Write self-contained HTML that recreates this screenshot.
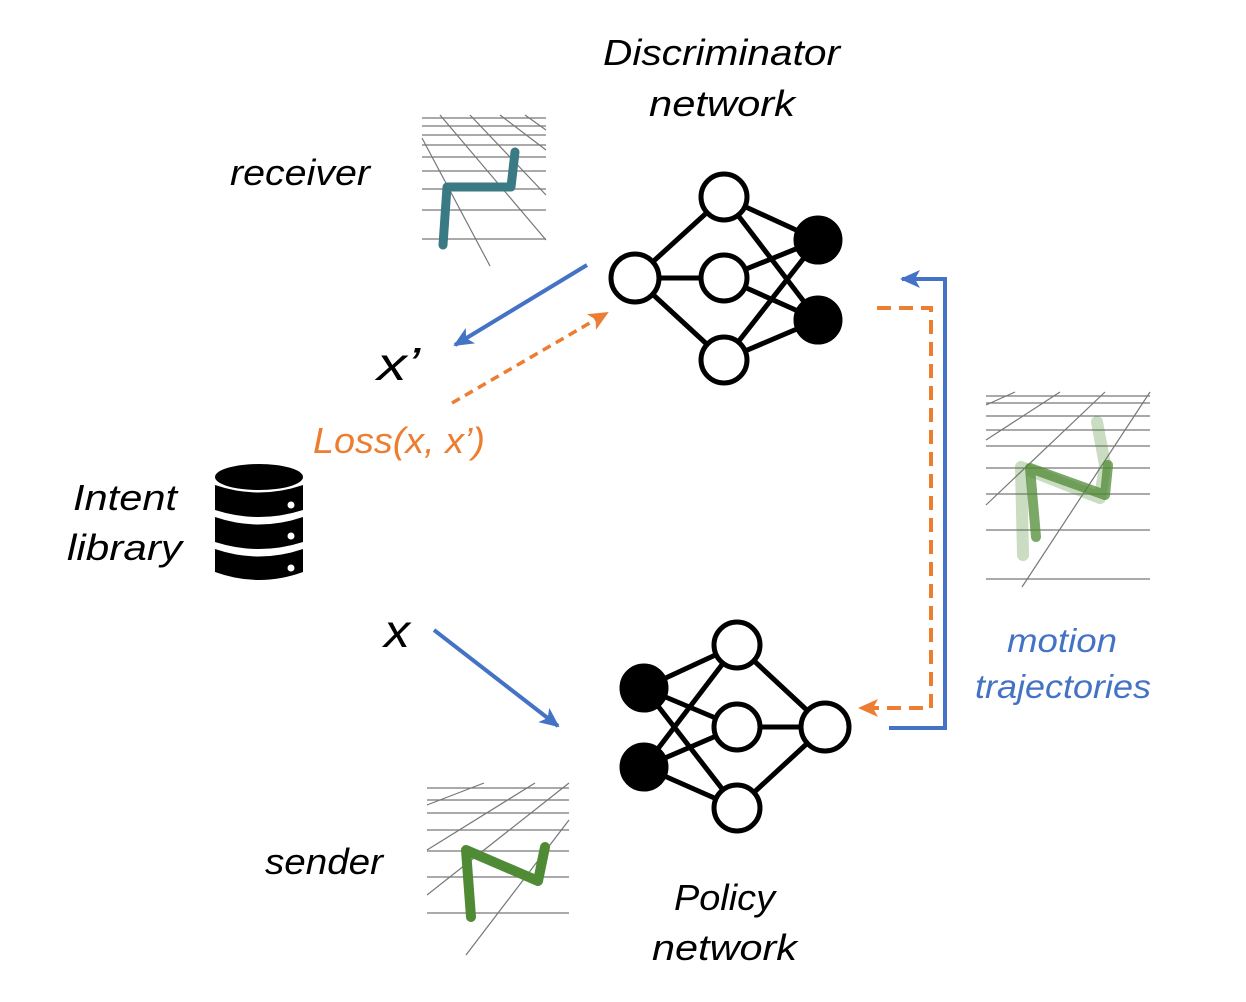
<!DOCTYPE html>
<html><head><meta charset="utf-8"><style>html,body{margin:0;padding:0;background:#fff}svg{display:block}</style></head>
<body>
<svg width="1246" height="1002" viewBox="0 0 1246 1002" xmlns="http://www.w3.org/2000/svg" font-family="Liberation Sans, sans-serif" font-style="italic">
<defs>
<marker id="ab2" markerWidth="22" markerHeight="22" refX="18" refY="11" orient="auto" markerUnits="userSpaceOnUse" viewBox="0 0 22 22"><path d="M0,2 L20,11 L0,20 L5,11 z" fill="#4472c4"/></marker>
<marker id="ao2" markerWidth="22" markerHeight="22" refX="18" refY="11" orient="auto" markerUnits="userSpaceOnUse" viewBox="0 0 22 22"><path d="M0,2 L20,11 L0,20 L5,11 z" fill="#ed7d31"/></marker>
</defs>

<g fill="#000" font-size="36">
<text x="603" y="65" textLength="237" lengthAdjust="spacingAndGlyphs">Discriminator</text>
<text x="649" y="116" textLength="146" lengthAdjust="spacingAndGlyphs">network</text>
<text x="230" y="185" textLength="140" lengthAdjust="spacingAndGlyphs">receiver</text>
<text x="73" y="510" textLength="104" lengthAdjust="spacingAndGlyphs">Intent</text>
<text x="67" y="560" textLength="115" lengthAdjust="spacingAndGlyphs">library</text>
<text x="265" y="874" textLength="118" lengthAdjust="spacingAndGlyphs">sender</text>
<text x="674" y="910" textLength="101" lengthAdjust="spacingAndGlyphs">Policy</text>
<text x="652" y="960" textLength="145" lengthAdjust="spacingAndGlyphs">network</text>
</g>
<text x="377" y="380" font-size="46" textLength="43" lengthAdjust="spacingAndGlyphs">x’</text>
<text x="384" y="647" font-size="46" textLength="26" lengthAdjust="spacingAndGlyphs">x</text>
<text x="313" y="453" font-size="36" fill="#ed7d31" textLength="172" lengthAdjust="spacingAndGlyphs">Loss(x, x’)</text>
<text x="1007" y="652" font-size="33" fill="#4472c4" textLength="110" lengthAdjust="spacingAndGlyphs">motion</text>
<text x="975" y="698" font-size="33" fill="#4472c4" textLength="176" lengthAdjust="spacingAndGlyphs">trajectories</text>

<g fill="#000">
<ellipse cx="259" cy="477" rx="44" ry="13"/>
<path d="M215,485 Q259,500 303,485 L303,510 Q259,524 215,510 z"/>
<path d="M215,517 Q259,532 303,517 L303,542 Q259,556 215,542 z"/>
<path d="M215,549 Q259,564 303,549 L303,572 Q259,588 215,572 z"/>
</g>
<g fill="#fff"><circle cx="291" cy="505" r="3.5"/><circle cx="291" cy="536" r="3.5"/><circle cx="291" cy="568" r="3.5"/></g>

<g stroke="#000" stroke-width="5" fill="none">
<line x1="635" y1="278" x2="724" y2="197"/><line x1="635" y1="278" x2="724" y2="278"/><line x1="635" y1="278" x2="724" y2="360"/>
<line x1="724" y1="197" x2="818" y2="240"/><line x1="724" y1="197" x2="818" y2="320"/>
<line x1="724" y1="278" x2="818" y2="240"/><line x1="724" y1="278" x2="818" y2="320"/>
<line x1="724" y1="360" x2="818" y2="240"/><line x1="724" y1="360" x2="818" y2="320"/>
</g>
<g stroke="#000" stroke-width="5">
<circle cx="635" cy="278" r="24" fill="#fff"/>
<circle cx="724" cy="197" r="23" fill="#fff"/><circle cx="724" cy="278" r="23" fill="#fff"/><circle cx="724" cy="360" r="23" fill="#fff"/>
<circle cx="818" cy="240" r="22" fill="#000"/><circle cx="818" cy="320" r="22" fill="#000"/>
</g>

<g stroke="#000" stroke-width="5" fill="none">
<line x1="644" y1="688" x2="737" y2="645"/><line x1="644" y1="688" x2="737" y2="727"/><line x1="644" y1="688" x2="737" y2="808"/>
<line x1="644" y1="767" x2="737" y2="645"/><line x1="644" y1="767" x2="737" y2="727"/><line x1="644" y1="767" x2="737" y2="808"/>
<line x1="737" y1="645" x2="825" y2="727"/><line x1="737" y1="727" x2="825" y2="727"/><line x1="737" y1="808" x2="825" y2="727"/>
</g>
<g stroke="#000" stroke-width="5">
<circle cx="644" cy="688" r="22" fill="#000"/><circle cx="644" cy="767" r="22" fill="#000"/>
<circle cx="737" cy="645" r="23" fill="#fff"/><circle cx="737" cy="727" r="23" fill="#fff"/><circle cx="737" cy="808" r="23" fill="#fff"/>
<circle cx="825" cy="727" r="24" fill="#fff"/>
</g>

<line x1="587" y1="265" x2="455" y2="345" stroke="#4472c4" stroke-width="4" marker-end="url(#ab2)"/>
<line x1="452" y1="403" x2="607" y2="313" stroke="#ed7d31" stroke-width="3.5" stroke-dasharray="9,6" marker-end="url(#ao2)"/>
<line x1="434" y1="630" x2="558" y2="726" stroke="#4472c4" stroke-width="4" marker-end="url(#ab2)"/>
<polyline points="877,308 931,308 931,708 860,708" fill="none" stroke="#ed7d31" stroke-width="4" stroke-dasharray="14,8" marker-end="url(#ao2)"/>
<polyline points="889,728 945,728 945,279 902,279" fill="none" stroke="#4472c4" stroke-width="4" marker-end="url(#ab2)"/>

<g stroke="#777" stroke-width="1.2">
<line x1="422" y1="118" x2="546" y2="118"/><line x1="422" y1="126" x2="546" y2="126"/><line x1="422" y1="135" x2="546" y2="135"/><line x1="422" y1="145" x2="546" y2="145"/><line x1="422" y1="157" x2="546" y2="157"/><line x1="422" y1="171" x2="546" y2="171"/><line x1="422" y1="189" x2="546" y2="189"/><line x1="422" y1="210" x2="546" y2="210"/><line x1="422" y1="239" x2="546" y2="239"/>
<line x1="422" y1="138" x2="490" y2="266"/><line x1="440" y1="115" x2="546" y2="240"/><line x1="470" y1="115" x2="546" y2="195"/><line x1="500" y1="115" x2="546" y2="150"/><line x1="525" y1="115" x2="546" y2="130"/>
</g>
<polyline points="443,245 447,187 511,187 515,152" fill="none" stroke="#3a7a85" stroke-width="9" stroke-linecap="round" stroke-linejoin="round"/>

<g stroke="#777" stroke-width="1.2">
<line x1="427" y1="788" x2="569" y2="788"/><line x1="427" y1="800" x2="569" y2="800"/><line x1="427" y1="813" x2="569" y2="813"/><line x1="427" y1="830" x2="569" y2="830"/><line x1="427" y1="851" x2="569" y2="851"/><line x1="427" y1="877" x2="569" y2="877"/><line x1="427" y1="913" x2="569" y2="913"/>
<line x1="427" y1="805" x2="484" y2="783"/><line x1="427" y1="850" x2="535" y2="783"/><line x1="427" y1="895" x2="569" y2="783"/><line x1="466" y1="955" x2="569" y2="820"/>
</g>
<polyline points="471,917 466,850 538,881 545,847" fill="none" stroke="#4f8a34" stroke-width="10" stroke-linecap="round" stroke-linejoin="round"/>

<g stroke="#777" stroke-width="1.2">
<line x1="986" y1="396" x2="1150" y2="396"/><line x1="986" y1="403" x2="1150" y2="403"/><line x1="986" y1="416" x2="1150" y2="416"/><line x1="986" y1="430" x2="1150" y2="430"/><line x1="986" y1="446" x2="1150" y2="446"/><line x1="986" y1="468" x2="1150" y2="468"/><line x1="986" y1="494" x2="1150" y2="494"/><line x1="986" y1="530" x2="1150" y2="530"/><line x1="986" y1="579" x2="1150" y2="579"/>
<line x1="986" y1="405" x2="1015" y2="392"/><line x1="986" y1="440" x2="1060" y2="392"/><line x1="986" y1="505" x2="1105" y2="392"/><line x1="1022" y1="587" x2="1150" y2="392"/>
</g>
<polyline points="1023,555 1021,467 1100,498 1105,465 1097,422" fill="none" stroke="#4f8a34" stroke-opacity="0.3" stroke-width="12" stroke-linecap="round" stroke-linejoin="round"/>
<polyline points="1036,537 1030,468 1105,495 1108,465" fill="none" stroke="#4f8a34" stroke-opacity="0.75" stroke-width="10" stroke-linecap="round" stroke-linejoin="round"/>
</svg>
</body></html>
